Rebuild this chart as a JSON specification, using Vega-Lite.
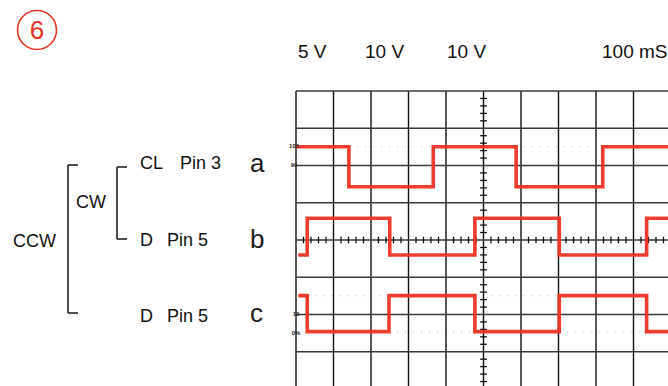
{
  "$schema": "https://vega.github.io/schema/vega-lite/v6.json",
  "width": 668,
  "height": 386,
  "padding": 0,
  "autosize": {"type": "fit", "contains": "padding"},
  "background": "white",
  "config": {"view": {"stroke": null}},
  "encoding": {
    "x": {"field": "x", "type": "quantitative", "axis": null, "scale": {"domain": [-7.8933, 9.92], "nice": false, "zero": false}},
    "y": {"field": "y", "type": "quantitative", "axis": null, "scale": {"domain": [-3.9195, 6.443], "nice": false, "zero": false}}
  },
  "layer": [
    {
      "data": {"values": [
        {"x": 1.41, "x2": 3.66, "y": 2.505, "y2": 2.505},
        {"x": 5.87, "x2": 8.18, "y": 2.505, "y2": 2.505},
        {"x": 0.3, "x2": 2.48, "y": -1.494, "y2": -1.494},
        {"x": 4.77, "x2": 7.02, "y": -1.494, "y2": -1.494},
        {"x": 2.48, "x2": 4.77, "y": -2.461, "y2": -2.461},
        {"x": 7.02, "x2": 9.35, "y": -2.461, "y2": -2.461}
      ]},
      "mark": {"type": "rule", "color": "#bbbbbb", "strokeWidth": 1, "strokeDash": [1, 7], "clip": true},
      "encoding": {"x2": {"field": "x2"}, "y2": {"field": "y2"}}
    },
    {
      "data": {"values": [
        {"x": 0, "x2": 0, "y": -4.2, "y2": 4},
        {"x": 1, "x2": 1, "y": -4.2, "y2": 4},
        {"x": 2, "x2": 2, "y": -4.2, "y2": 4},
        {"x": 3, "x2": 3, "y": -4.2, "y2": 4},
        {"x": 4, "x2": 4, "y": -4.2, "y2": 4},
        {"x": 5, "x2": 5, "y": -4.2, "y2": 4},
        {"x": 6, "x2": 6, "y": -4.2, "y2": 4},
        {"x": 7, "x2": 7, "y": -4.2, "y2": 4},
        {"x": 8, "x2": 8, "y": -4.2, "y2": 4},
        {"x": 9, "x2": 9, "y": -4.2, "y2": 4},
        {"x": 10, "x2": 10, "y": -4.2, "y2": 4}
      ]},
      "mark": {"type": "rule", "color": "#111111", "strokeWidth": 1.4, "clip": true},
      "encoding": {"x2": {"field": "x2"}, "y2": {"field": "y2"}}
    },
    {
      "data": {"values": [
        {"x": 0, "x2": 10, "y": 4, "y2": 4},
        {"x": 0, "x2": 10, "y": 3, "y2": 3},
        {"x": 0, "x2": 10, "y": 2, "y2": 2},
        {"x": 0, "x2": 10, "y": 1, "y2": 1},
        {"x": 0, "x2": 10, "y": 0, "y2": 0},
        {"x": 0, "x2": 10, "y": -1, "y2": -1},
        {"x": 0, "x2": 10, "y": -2, "y2": -2},
        {"x": 0, "x2": 10, "y": -3, "y2": -3},
        {"x": 0, "x2": 10, "y": -4, "y2": -4}
      ]},
      "mark": {"type": "rule", "color": "#3a3a3a", "strokeWidth": 1.3, "clip": true},
      "encoding": {"x2": {"field": "x2"}, "y2": {"field": "y2"}}
    },
    {
      "data": {"values": [
        {"x": 0.2, "x2": 0.2, "y": -0.09, "y2": 0.09}, {"x": 0.4, "x2": 0.4, "y": -0.09, "y2": 0.09}, {"x": 0.6, "x2": 0.6, "y": -0.09, "y2": 0.09}, {"x": 0.8, "x2": 0.8, "y": -0.09, "y2": 0.09},
        {"x": 1.2, "x2": 1.2, "y": -0.09, "y2": 0.09}, {"x": 1.4, "x2": 1.4, "y": -0.09, "y2": 0.09}, {"x": 1.6, "x2": 1.6, "y": -0.09, "y2": 0.09}, {"x": 1.8, "x2": 1.8, "y": -0.09, "y2": 0.09},
        {"x": 2.2, "x2": 2.2, "y": -0.09, "y2": 0.09}, {"x": 2.4, "x2": 2.4, "y": -0.09, "y2": 0.09}, {"x": 2.6, "x2": 2.6, "y": -0.09, "y2": 0.09}, {"x": 2.8, "x2": 2.8, "y": -0.09, "y2": 0.09},
        {"x": 3.2, "x2": 3.2, "y": -0.09, "y2": 0.09}, {"x": 3.4, "x2": 3.4, "y": -0.09, "y2": 0.09}, {"x": 3.6, "x2": 3.6, "y": -0.09, "y2": 0.09}, {"x": 3.8, "x2": 3.8, "y": -0.09, "y2": 0.09},
        {"x": 4.2, "x2": 4.2, "y": -0.09, "y2": 0.09}, {"x": 4.4, "x2": 4.4, "y": -0.09, "y2": 0.09}, {"x": 4.6, "x2": 4.6, "y": -0.09, "y2": 0.09}, {"x": 4.8, "x2": 4.8, "y": -0.09, "y2": 0.09},
        {"x": 5.2, "x2": 5.2, "y": -0.09, "y2": 0.09}, {"x": 5.4, "x2": 5.4, "y": -0.09, "y2": 0.09}, {"x": 5.6, "x2": 5.6, "y": -0.09, "y2": 0.09}, {"x": 5.8, "x2": 5.8, "y": -0.09, "y2": 0.09},
        {"x": 6.2, "x2": 6.2, "y": -0.09, "y2": 0.09}, {"x": 6.4, "x2": 6.4, "y": -0.09, "y2": 0.09}, {"x": 6.6, "x2": 6.6, "y": -0.09, "y2": 0.09}, {"x": 6.8, "x2": 6.8, "y": -0.09, "y2": 0.09},
        {"x": 7.2, "x2": 7.2, "y": -0.09, "y2": 0.09}, {"x": 7.4, "x2": 7.4, "y": -0.09, "y2": 0.09}, {"x": 7.6, "x2": 7.6, "y": -0.09, "y2": 0.09}, {"x": 7.8, "x2": 7.8, "y": -0.09, "y2": 0.09},
        {"x": 8.2, "x2": 8.2, "y": -0.09, "y2": 0.09}, {"x": 8.4, "x2": 8.4, "y": -0.09, "y2": 0.09}, {"x": 8.6, "x2": 8.6, "y": -0.09, "y2": 0.09}, {"x": 8.8, "x2": 8.8, "y": -0.09, "y2": 0.09},
        {"x": 9.2, "x2": 9.2, "y": -0.09, "y2": 0.09}, {"x": 9.4, "x2": 9.4, "y": -0.09, "y2": 0.09}, {"x": 9.6, "x2": 9.6, "y": -0.09, "y2": 0.09}, {"x": 9.8, "x2": 9.8, "y": -0.09, "y2": 0.09},
        {"x": 4.91, "x2": 5.09, "y": -3.8, "y2": -3.8}, {"x": 4.91, "x2": 5.09, "y": -3.6, "y2": -3.6}, {"x": 4.91, "x2": 5.09, "y": -3.4, "y2": -3.4}, {"x": 4.91, "x2": 5.09, "y": -3.2, "y2": -3.2},
        {"x": 4.91, "x2": 5.09, "y": -2.8, "y2": -2.8}, {"x": 4.91, "x2": 5.09, "y": -2.6, "y2": -2.6}, {"x": 4.91, "x2": 5.09, "y": -2.4, "y2": -2.4}, {"x": 4.91, "x2": 5.09, "y": -2.2, "y2": -2.2},
        {"x": 4.91, "x2": 5.09, "y": -1.8, "y2": -1.8}, {"x": 4.91, "x2": 5.09, "y": -1.6, "y2": -1.6}, {"x": 4.91, "x2": 5.09, "y": -1.4, "y2": -1.4}, {"x": 4.91, "x2": 5.09, "y": -1.2, "y2": -1.2},
        {"x": 4.91, "x2": 5.09, "y": -0.8, "y2": -0.8}, {"x": 4.91, "x2": 5.09, "y": -0.6, "y2": -0.6}, {"x": 4.91, "x2": 5.09, "y": -0.4, "y2": -0.4}, {"x": 4.91, "x2": 5.09, "y": -0.2, "y2": -0.2},
        {"x": 4.91, "x2": 5.09, "y": 0.2, "y2": 0.2}, {"x": 4.91, "x2": 5.09, "y": 0.4, "y2": 0.4}, {"x": 4.91, "x2": 5.09, "y": 0.6, "y2": 0.6}, {"x": 4.91, "x2": 5.09, "y": 0.8, "y2": 0.8},
        {"x": 4.91, "x2": 5.09, "y": 1.2, "y2": 1.2}, {"x": 4.91, "x2": 5.09, "y": 1.4, "y2": 1.4}, {"x": 4.91, "x2": 5.09, "y": 1.6, "y2": 1.6}, {"x": 4.91, "x2": 5.09, "y": 1.8, "y2": 1.8},
        {"x": 4.91, "x2": 5.09, "y": 2.2, "y2": 2.2}, {"x": 4.91, "x2": 5.09, "y": 2.4, "y2": 2.4}, {"x": 4.91, "x2": 5.09, "y": 2.6, "y2": 2.6}, {"x": 4.91, "x2": 5.09, "y": 2.8, "y2": 2.8},
        {"x": 4.91, "x2": 5.09, "y": 3.2, "y2": 3.2}, {"x": 4.91, "x2": 5.09, "y": 3.4, "y2": 3.4}, {"x": 4.91, "x2": 5.09, "y": 3.6, "y2": 3.6}, {"x": 4.91, "x2": 5.09, "y": 3.8, "y2": 3.8}
      ]},
      "mark": {"type": "rule", "color": "#111111", "strokeWidth": 1.3, "clip": true},
      "encoding": {"x2": {"field": "x2"}, "y2": {"field": "y2"}}
    },
    {
      "data": {"values": [
        {"trace": "a", "o": 1, "x": 0, "y": 2.505},
        {"trace": "a", "o": 2, "x": 1.41, "y": 2.505},
        {"trace": "a", "o": 3, "x": 1.41, "y": 1.431},
        {"trace": "a", "o": 4, "x": 3.66, "y": 1.431},
        {"trace": "a", "o": 5, "x": 3.66, "y": 2.505},
        {"trace": "a", "o": 6, "x": 5.87, "y": 2.505},
        {"trace": "a", "o": 7, "x": 5.87, "y": 1.431},
        {"trace": "a", "o": 8, "x": 8.18, "y": 1.431},
        {"trace": "a", "o": 9, "x": 8.18, "y": 2.505},
        {"trace": "a", "o": 10, "x": 10.2, "y": 2.505},
        {"trace": "b", "o": 1, "x": 0.06, "y": -0.403},
        {"trace": "b", "o": 2, "x": 0.3, "y": -0.403},
        {"trace": "b", "o": 3, "x": 0.3, "y": 0.582},
        {"trace": "b", "o": 4, "x": 2.5, "y": 0.582},
        {"trace": "b", "o": 5, "x": 2.5, "y": -0.403},
        {"trace": "b", "o": 6, "x": 4.77, "y": -0.403},
        {"trace": "b", "o": 7, "x": 4.77, "y": 0.582},
        {"trace": "b", "o": 8, "x": 7.02, "y": 0.582},
        {"trace": "b", "o": 9, "x": 7.02, "y": -0.403},
        {"trace": "b", "o": 10, "x": 9.35, "y": -0.403},
        {"trace": "b", "o": 11, "x": 9.35, "y": 0.582},
        {"trace": "b", "o": 12, "x": 10.2, "y": 0.582},
        {"trace": "c", "o": 1, "x": 0.06, "y": -1.494},
        {"trace": "c", "o": 2, "x": 0.3, "y": -1.494},
        {"trace": "c", "o": 3, "x": 0.3, "y": -2.461},
        {"trace": "c", "o": 4, "x": 2.48, "y": -2.461},
        {"trace": "c", "o": 5, "x": 2.48, "y": -1.494},
        {"trace": "c", "o": 6, "x": 4.77, "y": -1.494},
        {"trace": "c", "o": 7, "x": 4.77, "y": -2.461},
        {"trace": "c", "o": 8, "x": 7.02, "y": -2.461},
        {"trace": "c", "o": 9, "x": 7.02, "y": -1.494},
        {"trace": "c", "o": 10, "x": 9.35, "y": -1.494},
        {"trace": "c", "o": 11, "x": 9.35, "y": -2.461},
        {"trace": "c", "o": 12, "x": 10.2, "y": -2.461}
      ]},
      "mark": {"type": "line", "color": "#ee3124", "strokeWidth": 3.6, "strokeJoin": "miter", "strokeCap": "butt", "opacity": 0.95, "clip": true},
      "encoding": {"detail": {"field": "trace"}, "order": {"field": "o", "type": "quantitative"}}
    },
    {
      "data": {"values": [
        {"x": -6.08, "x2": -6.08, "y": 2.013, "y2": -1.96},
        {"x": -6.08, "x2": -5.813, "y": 2.013, "y2": 2.013},
        {"x": -6.08, "x2": -5.813, "y": -1.96, "y2": -1.96},
        {"x": -4.773, "x2": -4.773, "y": 1.96, "y2": 0.027},
        {"x": -4.773, "x2": -4.507, "y": 1.96, "y2": 1.96},
        {"x": -4.773, "x2": -4.507, "y": 0.027, "y2": 0.027}
      ]},
      "mark": {"type": "rule", "color": "#222222", "strokeWidth": 1.6, "clip": true},
      "encoding": {"x2": {"field": "x2"}, "y2": {"field": "y2"}}
    },
    {
      "data": {"values": [
        {"label": "5 V", "x": 0.053, "y": 4.886},
        {"label": "10 V", "x": 1.84, "y": 4.886},
        {"label": "10 V", "x": 4.027, "y": 4.886},
        {"label": "100 mS", "x": 8.16, "y": 4.886}
      ]},
      "mark": {"type": "text", "align": "left", "baseline": "alphabetic", "font": "Liberation Sans", "fontSize": 19, "fontWeight": "normal", "color": "#111111", "clip": true},
      "encoding": {"text": {"field": "label"}}
    },
    {
      "data": {"values": [
        {"label": "CL", "x": -4.16, "y": 1.906},
        {"label": "Pin 3", "x": -3.093, "y": 1.906},
        {"label": "D", "x": -4.16, "y": -0.161},
        {"label": "Pin 5", "x": -3.44, "y": -0.161},
        {"label": "D", "x": -4.16, "y": -2.201},
        {"label": "Pin 5", "x": -3.44, "y": -2.201},
        {"label": "CW", "x": -5.867, "y": 0.859},
        {"label": "CCW", "x": -7.547, "y": -0.188}
      ]},
      "mark": {"type": "text", "align": "left", "baseline": "alphabetic", "font": "Liberation Sans", "fontSize": 18, "color": "#111111", "clip": true},
      "encoding": {"text": {"field": "label"}}
    },
    {
      "data": {"values": [
        {"label": "a", "x": -1.227, "y": 1.826},
        {"label": "b", "x": -1.227, "y": -0.215},
        {"label": "c", "x": -1.227, "y": -2.201}
      ]},
      "mark": {"type": "text", "align": "left", "baseline": "alphabetic", "font": "Liberation Sans", "fontSize": 26, "color": "#1a1a1a", "clip": true},
      "encoding": {"text": {"field": "label"}}
    },
    {
      "data": {"values": [
        {"label": "100", "x": -0.05, "y": 2.523},
        {"label": "90", "x": -0.05, "y": 2.013},
        {"label": "10", "x": 0.0, "y": -1.987},
        {"label": "0%", "x": 0.0, "y": -2.497}
      ]},
      "mark": {"type": "text", "align": "center", "baseline": "middle", "font": "Liberation Sans", "fontSize": 6, "fontWeight": "bold", "color": "#222222", "clip": true},
      "encoding": {"text": {"field": "label"}}
    },
    {
      "data": {"values": [{"x": -6.907, "y": 5.638}]},
      "mark": {"type": "point", "shape": "circle", "size": 1520, "filled": false, "stroke": "#e8321f", "strokeWidth": 1.6, "opacity": 1, "clip": true}
    },
    {
      "data": {"values": [{"label": "6", "x": -6.907, "y": 5.611}]},
      "mark": {"type": "text", "align": "center", "baseline": "middle", "font": "Liberation Sans", "fontSize": 26, "color": "#e8321f", "clip": true},
      "encoding": {"text": {"field": "label"}}
    }
  ]
}
